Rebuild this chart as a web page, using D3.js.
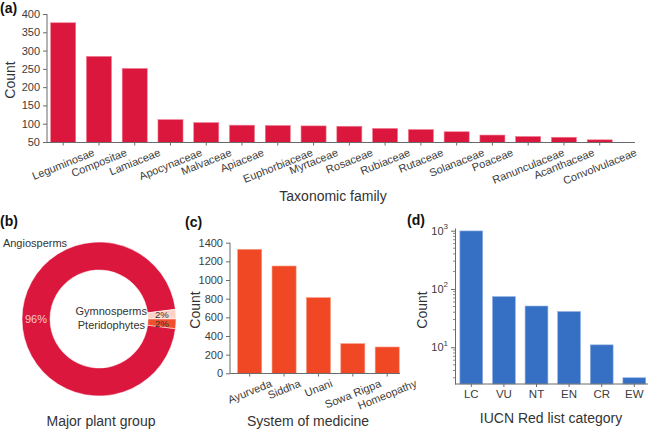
<!DOCTYPE html>
<html><head><meta charset="utf-8">
<script src="https://cdn.jsdelivr.net/npm/d3@7"></script>
<style>
body{margin:0;background:#fff;}
svg{display:block;font-family:"Liberation Sans",Arial,sans-serif;}
</style></head>
<body><svg id="c" width="648" height="429"></svg>
<script>
// ---- data ----
const families = ["Leguminosae","Compositae","Lamiaceae","Apocynaceae","Malvaceae","Apiaceae","Euphorbiaceae","Myrtaceae","Rosaceae","Rubiaceae","Rutaceae","Solanaceae","Poaceae","Ranunculaceae","Acanthaceae","Convolvulaceae"];
const familyCounts = [376,284,251,111,103,96,95,94,93,87,84,78,69,65,63,56];
const familyTicks = [50,100,150,200,250,300,350,400];

const plantGroups = ["Angiosperms","Gymnosperms","Pteridophytes"];
const plantShares = [96,2,2];

const systems = ["Ayurveda","Siddha","Unani","Sowa Rigpa","Homeopathy"];
const systemCounts = [1329,1150,811,318,282];
const systemTicks = [0,200,400,600,800,1000,1200,1400];

const iucn = ["LC","VU","NT","EN","CR","EW"];
const iucnCounts = [990,74,51,41,11,3];
const iucnTicks = [10,100,1000];

// ---- style ----
const RED = "#DC173E", ORANGE = "#F04824", BLUE = "#3670C4";
const AX = "#6b6b6b", TXT = "#333", TICK = "#3c3c3c";
const svg = d3.select("#c");

function styleAxis(g){
  g.selectAll(".domain").attr("stroke",AX).attr("stroke-width",1);
  g.selectAll(".tick line").attr("stroke",AX);
  g.selectAll(".tick text").attr("fill",TICK).attr("font-size",11).attr("font-family","Liberation Sans, Arial, sans-serif");
}
function rotLabels(g, top, deg){
  const th = deg*Math.PI/180;
  g.selectAll(".tick text").each(function(){
    const t = d3.select(this);
    const L = this.getComputedTextLength();
    const h = 11;
    const H = L*Math.sin(th) + h*Math.cos(th);
    t.attr("text-anchor","middle").attr("dy",null).attr("y",null)
     .attr("dominant-baseline","central")
     .attr("transform",`translate(0,${top + H/2}) rotate(${-deg})`);
  });
}
function ylabel(x,y,txt){
  svg.append("text").attr("transform",`translate(${x},${y}) rotate(-90)`)
    .attr("text-anchor","middle").attr("dominant-baseline","central")
    .attr("font-size",14).attr("fill",TXT).text(txt);
}
function xlabel(x,y,txt){
  svg.append("text").attr("x",x).attr("y",y).attr("text-anchor","middle")
    .attr("dominant-baseline","central").attr("font-size",14).attr("fill",TXT).text(txt);
}
function panel(x,y,txt){
  svg.append("text").attr("x",x).attr("y",y).attr("font-size",14).attr("font-weight","bold")
    .attr("fill","#111").text(txt);
}

// ---- (a) ----
{
  const x0=47, x1=635, yb=142.5, yt=14;
  const x = d3.scaleBand().domain(families).range([45.3,617.6]).paddingInner(0.3).paddingOuter(0.15);
  const y = d3.scaleLinear().domain([50,400]).range([142,14]);
  svg.append("g").selectAll("rect").data(families).join("rect")
    .attr("x",d=>x(d)).attr("width",x.bandwidth())
    .attr("y",(d,i)=>y(familyCounts[i])).attr("height",(d,i)=>yb-y(familyCounts[i]))
    .attr("fill",RED).attr("stroke","#f07a90").attr("stroke-width",0.6);
  const gy = svg.append("g").attr("transform",`translate(${x0},0)`)
    .call(d3.axisLeft(y).tickValues(familyTicks).tickSize(4).tickPadding(3).tickSizeOuter(0));
  gy.select(".domain").attr("d",`M0,${yt}V${yb}`);
  styleAxis(gy);
  const gx = svg.append("g").attr("transform",`translate(0,${yb})`)
    .call(d3.axisBottom(x).tickSize(3).tickSizeOuter(0));
  gx.select(".domain").attr("d",`M${x0},0H${x1}`);
  styleAxis(gx);
  rotLabels(gx, 4, 22);
  ylabel(10,80,"Count");
  xlabel(333,196,"Taxonomic family");
  panel(0,13,"(a)");
}

// ---- (b) ----
{
  const cx=99, cy=319, R=77, r=49;
  const colors = [RED,"#FDD3C6","#F0502E"];
  const tot = d3.sum(plantShares);
  const a1 = 2*Math.PI*plantShares[1]/tot, a2 = 2*Math.PI*plantShares[2]/tot;
  // Gymnosperms ends at 3 o'clock, Pteridophytes starts there, Angiosperms fills the rest
  const ang = [
    {startAngle:Math.PI/2 + a2, endAngle:Math.PI/2 + 2*Math.PI - a1},
    {startAngle:Math.PI/2 - a1, endAngle:Math.PI/2},
    {startAngle:Math.PI/2, endAngle:Math.PI/2 + a2}
  ];
  const arc = d3.arc().innerRadius(r).outerRadius(R);
  const g = svg.append("g").attr("transform",`translate(${cx},${cy})`);
  g.selectAll("path").data(ang).join("path")
    .attr("d",d=>arc(d))
    .attr("fill",(d,i)=>colors[i]).attr("stroke","#fff").attr("stroke-width",0.5);
  const lab = d3.arc().innerRadius((r+R)/2).outerRadius((r+R)/2);
  const pctCol = ["#F9C9CF","#333","#333"];
  g.selectAll("text.p").data(ang).join("text").attr("class","p")
    .attr("transform",(d,i)=>{
      let c = lab.centroid(d);
      if(i===0) c=[-(r+R)/2,0];
      if(i===1) c[1]-=1;
      if(i===2) c[1]+=1;
      return `translate(${c})`;})
    .attr("text-anchor","middle").attr("dominant-baseline","central")
    .attr("font-size",(d,i)=>i===0?11:9.5).attr("fill",(d,i)=>pctCol[i]).text((d,i)=>plantShares[i]+"%");
  svg.append("text").attr("x",35).attr("y",243).attr("text-anchor","middle").attr("dominant-baseline","central")
    .attr("font-size",11).attr("fill",TXT).text(plantGroups[0]);
  svg.append("text").attr("x",147).attr("y",311).attr("text-anchor","end").attr("dominant-baseline","central")
    .attr("font-size",11).attr("fill",TXT).text(plantGroups[1]);
  svg.append("text").attr("x",145).attr("y",324.5).attr("text-anchor","end").attr("dominant-baseline","central")
    .attr("font-size",11).attr("fill",TXT).text(plantGroups[2]);
  xlabel(101,421,"Major plant group");
  panel(0,226,"(b)");
}

// ---- (c) ----
{
  const x0=230, x1=400, yb=373.5, yt=242.7;
  const x = d3.scaleBand().domain(systems).range([232.5,404.4]).paddingInner(0.3).paddingOuter(0.15);
  const y = d3.scaleLinear().domain([0,1400]).range([373.3,242.7]);
  svg.append("g").selectAll("rect").data(systems).join("rect")
    .attr("x",d=>x(d)).attr("width",x.bandwidth())
    .attr("y",(d,i)=>y(systemCounts[i])).attr("height",(d,i)=>yb-y(systemCounts[i]))
    .attr("fill",ORANGE).attr("stroke","#f79a80").attr("stroke-width",0.6);
  const gy = svg.append("g").attr("transform",`translate(${x0},0)`)
    .call(d3.axisLeft(y).tickValues(systemTicks).tickFormat(d3.format("d")).tickSize(4).tickPadding(3).tickSizeOuter(0));
  gy.select(".domain").attr("d",`M0,${yt}V${yb}`);
  styleAxis(gy);
  const gx = svg.append("g").attr("transform",`translate(0,${yb})`)
    .call(d3.axisBottom(x).tickSize(3).tickSizeOuter(0));
  gx.select(".domain").attr("d",`M${x0},0H${x1}`);
  styleAxis(gx);
  rotLabels(gx, 4, 22);
  ylabel(195,310,"Count");
  xlabel(308,421,"System of medicine");
  panel(185,227,"(c)");
}

// ---- (d) ----
{
  const x0=455, x1=648, yb=384;
  const y = d3.scaleLog().domain([Math.pow(10,0.37),Math.pow(10,3.046)]).range([384,228]);
  const x = d3.scaleBand().domain(iucn).range([455,650.6]).paddingInner(0.3).paddingOuter(0.15);
  svg.append("g").selectAll("rect").data(iucn).join("rect")
    .attr("x",d=>x(d)).attr("width",x.bandwidth())
    .attr("y",(d,i)=>y(iucnCounts[i])).attr("height",(d,i)=>yb-y(iucnCounts[i]))
    .attr("fill",BLUE).attr("stroke","#8fb0e0").attr("stroke-width",0.6);
  const minors=[];
  for(let e=0;e<4;e++) for(let m=2;m<10;m++){const v=m*Math.pow(10,e); if(v>y.domain()[0]&&v<y.domain()[1]) minors.push(v);}
  svg.append("g").selectAll("line").data(minors).join("line")
    .attr("x1",x0-2).attr("x2",x0).attr("y1",d=>y(d)).attr("y2",d=>y(d))
    .attr("stroke",AX).attr("stroke-width",0.8);
  const gy = svg.append("g").attr("transform",`translate(${x0},0)`)
    .call(d3.axisLeft(y).tickValues(iucnTicks).tickSize(4).tickPadding(3).tickSizeOuter(0).tickFormat(()=>""));
  styleAxis(gy);
  gy.selectAll(".tick text").each(function(d){
    const t=d3.select(this); t.text(null);
    t.append("tspan").text("10");
    t.append("tspan").attr("font-size",8).attr("dy","-0.7em").text(Math.round(Math.log10(d)));
  });
  const gx = svg.append("g").attr("transform",`translate(0,${yb})`)
    .call(d3.axisBottom(x).tickSize(3).tickSizeOuter(0));
  gx.select(".domain").attr("d",`M${x0},0H${x1}`);
  styleAxis(gx);
  gx.selectAll(".tick text").attr("font-size",11.5);
  ylabel(422,310,"Count");
  xlabel(551,418,"IUCN Red list category");
  panel(407,225,"(d)");
}
</script></body></html>
